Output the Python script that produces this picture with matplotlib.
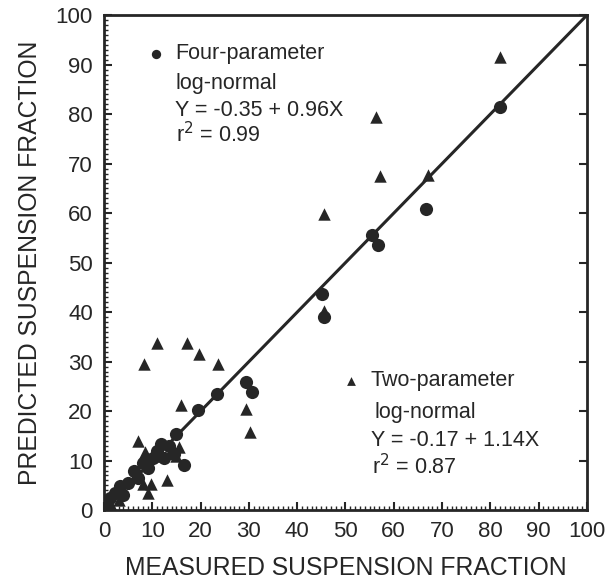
import matplotlib.pyplot as plt
from matplotlib.ticker import MultipleLocator

plt.rcParams['font.family'] = ['Liberation Sans', 'DejaVu Sans']

# four-parameter log-normal (circles)
four_x = [0.5, 1.2, 2.2, 3.3, 4.0, 5.0, 6.3, 7.0, 8.0, 9.0, 10.1, 11.0, 11.8, 12.5,
          13.5, 14.5, 14.8, 16.5, 19.4, 23.3, 29.4, 30.6,
          45.2, 45.6, 55.4, 56.7, 66.7, 82.0]
four_y = [1.2, 2.5, 3.5, 4.9, 3.0, 5.5, 7.9, 6.5, 9.6, 8.5, 10.6, 12.0, 13.4, 10.5,
          13.0, 11.3, 15.4, 9.2, 20.3, 23.5, 25.8, 23.8,
          43.7, 39.0, 55.5, 53.5, 60.8, 81.5]

# two-parameter log-normal (triangles)
two_x = [1.5, 3.0, 7.0, 8.3, 8.4, 9.2, 8.0, 9.7, 11.8, 13.1, 14.8, 15.5, 16.0,
         11.0, 17.2, 19.6, 23.5, 29.3, 30.3,
         45.6, 45.6, 56.3, 57.1, 67.0, 82.0]
two_y = [1.0, 2.0, 14.0, 29.5, 11.8, 3.5, 5.2, 5.2, 11.0, 6.0, 11.0, 12.8, 21.3,
         33.7, 33.7, 31.6, 29.6, 20.5, 15.7,
         40.3, 59.8, 79.4, 67.5, 67.7, 91.5]

ink = '#262626'

fig = plt.figure(figsize=(6.05, 5.85), dpi=100)
ax = fig.add_axes([0.172, 0.128, 0.798, 0.846])

ax.plot([0, 100], [0, 100], color=ink, lw=2.2, zorder=2)
ax.scatter(four_x, four_y, s=90, marker='o', color=ink, zorder=3, linewidths=0)
ax.scatter(two_x, two_y, s=80, marker='^', color=ink, zorder=3, linewidths=0)

ax.set_xlim(0, 100)
ax.set_ylim(0, 100)
ax.xaxis.set_major_locator(MultipleLocator(10))
ax.yaxis.set_major_locator(MultipleLocator(10))
ax.xaxis.set_minor_locator(MultipleLocator(1))
ax.yaxis.set_minor_locator(MultipleLocator(1))
ax.tick_params(which='major', direction='in', length=6, width=1.5, color=ink,
               labelsize=16, labelcolor=ink, right=True, top=False, pad=8)
ax.tick_params(which='minor', direction='in', length=3, width=1, color=ink,
               right=False, top=False)
for sp in ax.spines.values():
    sp.set_linewidth(2)
    sp.set_color(ink)

ax.set_xlabel('MEASURED SUSPENSION FRACTION', fontsize=17.8, color=ink, labelpad=10)
ax.set_ylabel('PREDICTED SUSPENSION FRACTION', fontsize=17.8, color=ink, labelpad=10)

# annotations
ax.scatter([10.8], [92.2], s=45, marker='o', color=ink, linewidths=0)
ax.text(14.7, 92.3, 'Four-parameter', fontsize=15.5, color=ink, va='center')
ax.text(14.7, 86.2, 'log-normal', fontsize=15.5, color=ink, va='center')
ax.text(14.7, 80.8, 'Y = -0.35 + 0.96X', fontsize=15.5, color=ink, va='center')
ax.text(15.0, 75.8, r'r$^2$ = 0.99', fontsize=15.5, color=ink, va='center')

ax.scatter([51.2], [26.1], s=40, marker='^', color=ink, linewidths=0)
ax.text(55.2, 26.2, 'Two-parameter', fontsize=15.5, color=ink, va='center')
ax.text(56.0, 19.8, 'log-normal', fontsize=15.5, color=ink, va='center')
ax.text(55.3, 14.0, 'Y = -0.17 + 1.14X', fontsize=15.5, color=ink, va='center')
ax.text(55.5, 8.7, r'r$^2$ = 0.87', fontsize=15.5, color=ink, va='center')

fig.savefig('out.png', dpi=100)
